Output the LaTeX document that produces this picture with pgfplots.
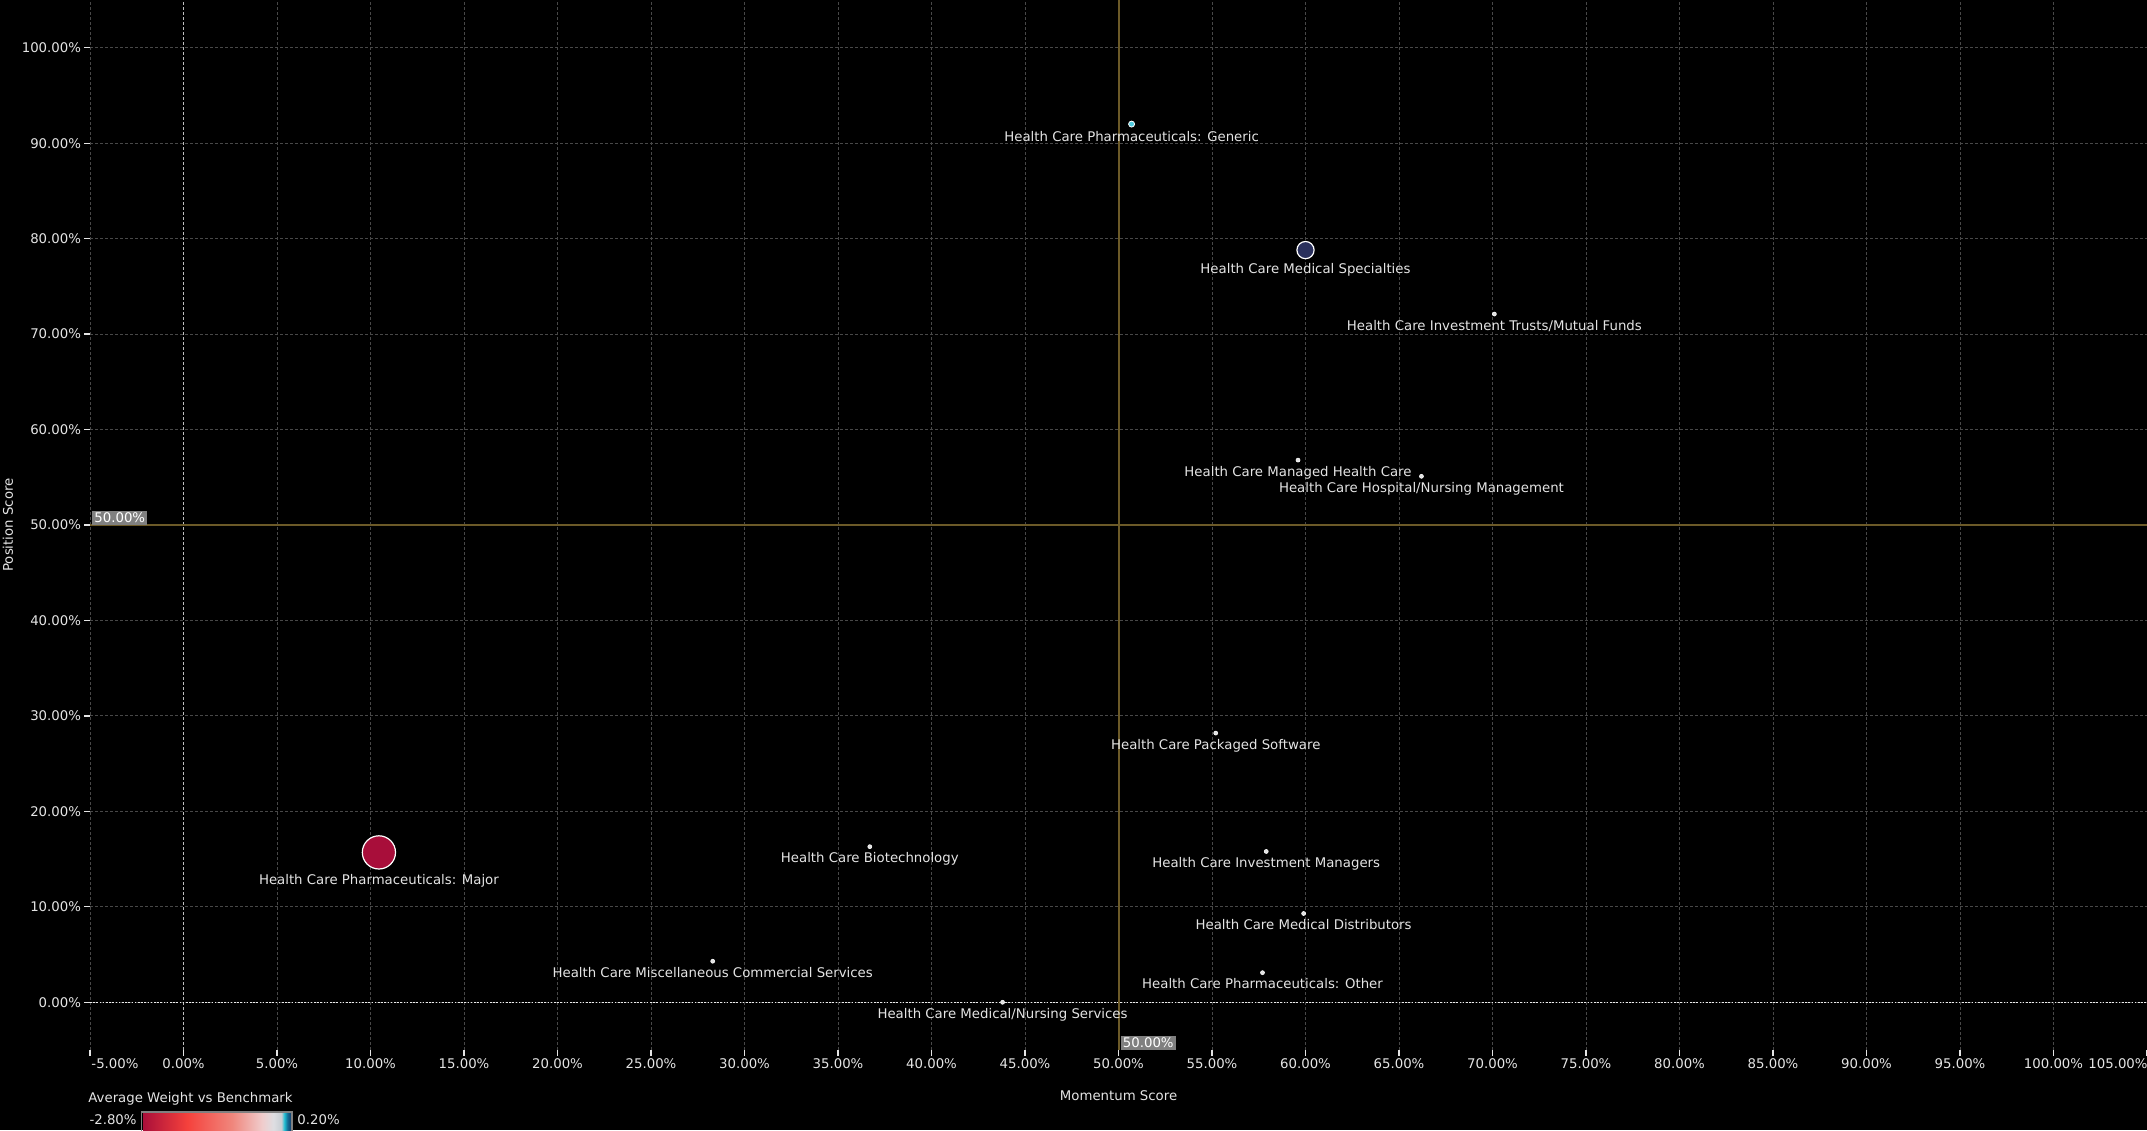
\documentclass[border=0pt]{standalone}
\usepackage{pgfplots}
\pgfplotsset{compat=1.18}
\usepackage{fontspec}
\setmainfont{DejaVu Sans}
\definecolor{gold}{RGB}{108,90,40}
\definecolor{txt}{RGB}{228,228,228}
\definecolor{gridc}{RGB}{72,72,72}
\definecolor{tagc}{RGB}{128,128,128}
\definecolor{majorc}{RGB}{168,14,58}
\definecolor{specc}{RGB}{42,48,92}
\definecolor{genc}{RGB}{80,205,225}
\definecolor{dotc}{RGB}{225,225,225}
\pgfdeclarehorizontalshading{awshade}{12pt}{rgb(0pt)=(0.659,0.055,0.227); rgb(22.5pt)=(0.961,0.255,0.235); rgb(45.1pt)=(0.941,0.529,0.490); rgb(60.1pt)=(0.941,0.804,0.804); rgb(65.6pt)=(0.871,0.871,0.886); rgb(69.6pt)=(0.784,0.808,0.831); rgb(71.1pt)=(0.118,0.745,0.824); rgb(72.6pt)=(0.078,0.431,0.588); rgb(75.1pt)=(0.078,0.157,0.353)}
\newcommand{\lf}{\fontsize{6.65pt}{7.9pt}\selectfont}
\begin{document}
\lf
\begin{tikzpicture}
\fill[black] (-45pt,-40pt) rectangle (1028.5pt,525pt);
\begin{axis}[
  at={(0,0)}, anchor=south west,
  scale only axis, width=1028.5pt, height=525pt,
  xmin=-5, xmax=105, ymin=-5, ymax=105,
  axis line style={draw=none},
  xtick={-5,0,...,105},
  xticklabels={\hspace*{25pt}-5.00\%,0.00\%,5.00\%,10.00\%,15.00\%,20.00\%,25.00\%,30.00\%,35.00\%,40.00\%,45.00\%,50.00\%,55.00\%,60.00\%,65.00\%,70.00\%,75.00\%,80.00\%,85.00\%,90.00\%,95.00\%,100.00\%,105.00\%\hspace*{29pt}},
  ytick={0,10,...,100},
  yticklabels={0.00\%,10.00\%,20.00\%,30.00\%,40.00\%,50.00\%,60.00\%,70.00\%,80.00\%,90.00\%,100.00\%},
  tick pos=left,
  tick align=outside,
  major tick length=3pt,
  tick style={draw=txt, line width=0.6pt},
  tick label style={text=txt, font=\lf, inner sep=1.3pt},
  grid=major,
  major grid style={draw=gridc, dash pattern=on 1.5pt off 1pt, line width=0.5pt},
  clip=false,
]
% reference lines
\addplot[draw=white!75!black, dash pattern=on 1.5pt off 1pt, line width=0.6pt] coordinates {(0,-5) (0,105)};
\addplot[draw=white!92!black, dash pattern=on 0.8pt off 0.8pt, line width=0.6pt] coordinates {(-5,0) (105,0)};
\addplot[draw=gold, line width=1pt] coordinates {(50,-5) (50,105)};
\addplot[draw=gold, line width=1pt] coordinates {(-5,50) (105,50)};
\node[fill=tagc, text=white, anchor=south west, inner sep=1pt, xshift=1pt] at (axis cs:-5,50) {50.00\%};
\node[fill=tagc, text=white, anchor=south west, inner sep=1pt, xshift=1pt] at (axis cs:50,-5) {50.00\%};
% small white dots
\addplot[only marks, mark=*, mark size=1pt, mark options={fill=dotc, draw=white, line width=0.3pt},
  nodes near coords, point meta=explicit symbolic, nodes near coords align=below,
  every node near coord/.append style={text=txt, inner sep=0.5pt, yshift=-2.4pt, font=\lf}]
  table[col sep=comma, x=x, y=y, meta=label] {
x,y,label
70.1,72.1,Health Care Investment Trusts/Mutual Funds
59.6,56.8,Health Care Managed Health Care
66.2,55.1,Health Care Hospital/Nursing Management
55.2,28.2,Health Care Packaged Software
36.7,16.3,Health Care Biotechnology
57.9,15.8,Health Care Investment Managers
59.9,9.3,Health Care Medical Distributors
28.3,4.3,Health Care Miscellaneous Commercial Services
57.7,3.1,Health Care Pharmaceuticals: Other
43.8,0.0,Health Care Medical/Nursing Services
};
% generic (cyan)
\addplot[only marks, mark=*, mark size=1.5pt, mark options={fill=genc, draw=white, line width=0.4pt},
  nodes near coords, point meta=explicit symbolic, nodes near coords align=below,
  every node near coord/.append style={text=txt, inner sep=0.5pt, yshift=-3pt, font=\lf}]
  table[col sep=comma, x=x, y=y, meta=label] {
x,y,label
50.7,92.0,Health Care Pharmaceuticals: Generic
};
% medical specialties (navy)
\addplot[only marks, mark=*, mark size=4.3pt, mark options={fill=specc, draw=white, line width=0.6pt},
  nodes near coords, point meta=explicit symbolic, nodes near coords align=below,
  every node near coord/.append style={text=txt, inner sep=0.5pt, yshift=-6.1pt, font=\lf}]
  table[col sep=comma, x=x, y=y, meta=label] {
x,y,label
60.0,78.8,Health Care Medical Specialties
};
% pharmaceuticals major (crimson)
\addplot[only marks, mark=*, mark size=8.3pt, mark options={fill=majorc, draw=white, line width=0.6pt},
  nodes near coords, point meta=explicit symbolic, nodes near coords align=below,
  every node near coord/.append style={text=txt, inner sep=0.5pt, yshift=-10.4pt, font=\lf}]
  table[col sep=comma, x=x, y=y, meta=label] {
x,y,label
10.45,15.7,Health Care Pharmaceuticals: Major
};
\end{axis}
\node[rotate=90, text=txt] at (-41pt,262.5pt) {Position Score};
\node[text=txt] at (514.3pt,-23pt) {Momentum Score};
\node[text=txt, anchor=west, inner sep=0pt] at (-1pt,-24.5pt) {Average Weight vs Benchmark};
\node[text=txt, anchor=east, inner sep=0pt] at (23.5pt,-35pt) {-2.80\%};
\node[text=txt, anchor=west, inner sep=0pt] at (103.5pt,-35pt) {0.20\%};
\node[anchor=north west, inner sep=0pt] at (25.9pt,-31pt) {\pgfuseshading{awshade}};
\draw[gray, line width=0.6pt] (25.9pt,-43pt) rectangle (101pt,-31pt);
\pgfresetboundingbox
\path (-45pt,-40pt) rectangle (1028.5pt,525pt);
\end{tikzpicture}
\end{document}
